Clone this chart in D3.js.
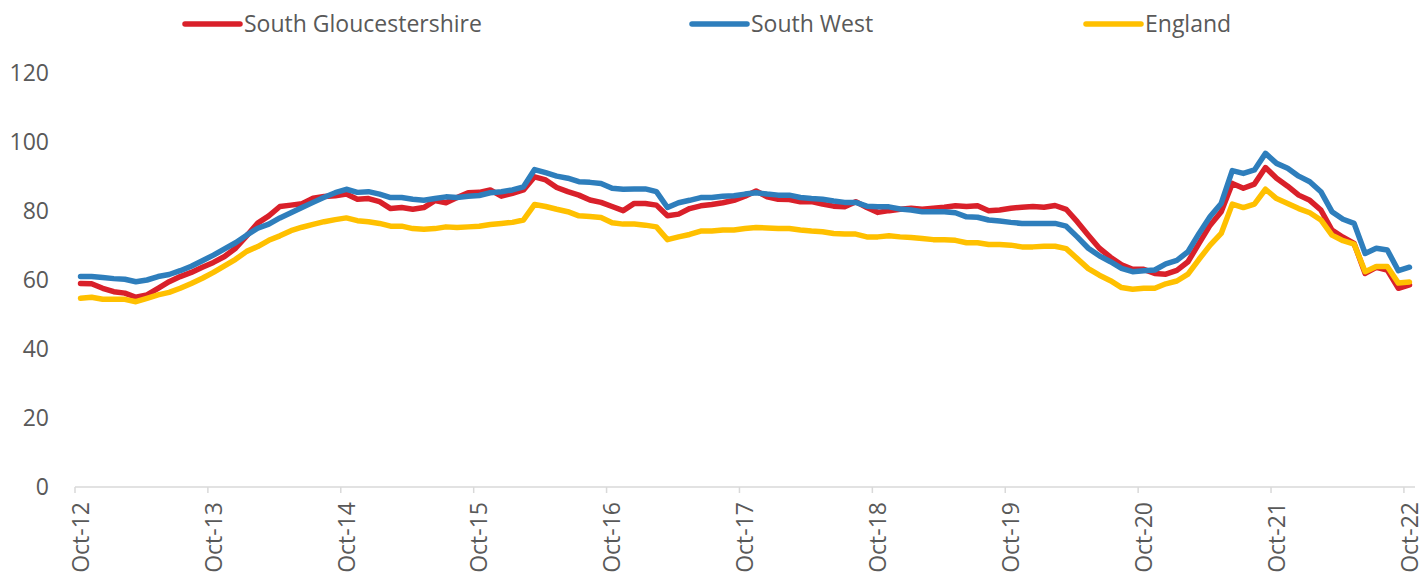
<!DOCTYPE html>
<html>
<head>
<meta charset="utf-8">
<script src="https://cdn.jsdelivr.net/npm/d3@7"></script>
<style>
  body { margin: 0; background: #fff; }
  svg { display: block; }
  text { font-family: "Open Sans", sans-serif; fill: #595959; }
</style>
</head>
<body>
<script>
// monthly series, Oct-12 .. Oct-22 (121 months)
const months = d3.timeMonth.range(new Date(2012, 9, 1), new Date(2022, 10, 1));
const tickLabels = ["Oct-12", "Oct-13", "Oct-14", "Oct-15", "Oct-16", "Oct-17", "Oct-18", "Oct-19", "Oct-20", "Oct-21", "Oct-22"];
const yTicks = [0, 20, 40, 60, 80, 100, 120];

const southGlos = [
  59.0, 58.9, 57.6, 56.6, 56.2, 55.0, 55.7, 57.6, 59.5, 61.0, 62.2, 63.7,
  65.1, 66.8, 69.2, 72.8, 76.5, 78.6, 81.3, 81.7, 82.1, 83.7, 84.2, 84.4,
  84.9, 83.4, 83.6, 82.7, 80.7, 81.0, 80.5, 81.0, 83.0, 82.4, 83.9, 85.3,
  85.4, 86.1, 84.3, 85.1, 86.1, 89.9, 89.0, 86.8, 85.6, 84.6, 83.2, 82.5,
  81.3, 80.1, 82.2, 82.2, 81.7, 78.6, 79.1, 80.7, 81.5, 81.9, 82.4, 83.1,
  84.3, 85.8, 84.1, 83.4, 83.3, 82.7, 82.7, 82.0, 81.4, 81.2, 82.7, 81.0,
  79.6, 80.1, 80.5, 80.8, 80.5, 80.8, 81.1, 81.5, 81.3, 81.5, 80.1, 80.3,
  80.8, 81.1, 81.3, 81.1, 81.6, 80.5, 76.9, 73.0, 69.2, 66.6, 64.4, 63.1,
  63.1, 61.9, 61.7, 62.8, 65.3, 70.6, 75.9, 79.8, 88.0, 86.6, 87.8, 92.6,
  89.5, 87.2, 84.6, 83.1, 80.3, 74.5, 72.4, 70.6, 61.9, 63.7, 62.9, 57.6,
  58.6
];

const southWest = [
  61.0, 61.0, 60.7, 60.4, 60.2, 59.5, 60.0, 61.0, 61.6, 62.7, 64.0, 65.6,
  67.2, 69.0, 70.8, 73.0, 75.0, 76.2, 78.0, 79.5, 81.0, 82.5, 84.0, 85.3,
  86.3, 85.4, 85.6, 84.9, 83.9, 83.9, 83.4, 83.1, 83.6, 84.1, 83.9, 84.3,
  84.5, 85.3, 85.6, 86.1, 87.0, 92.0, 91.1, 90.1, 89.5, 88.5, 88.3, 88.0,
  86.6, 86.3, 86.4, 86.4, 85.6, 81.0, 82.4, 83.1, 83.9, 83.9, 84.3, 84.4,
  84.9, 85.3, 84.9, 84.6, 84.6, 83.9, 83.6, 83.4, 82.9, 82.5, 82.5, 81.4,
  81.2, 81.2, 80.6, 80.3, 79.8, 79.8, 79.8, 79.5, 78.3, 78.2, 77.4, 77.1,
  76.7, 76.4, 76.4, 76.4, 76.4, 75.6, 72.5, 69.2, 67.0, 65.3, 63.4, 62.4,
  62.7, 62.9, 64.7, 65.7, 68.2, 73.5, 78.4, 82.2, 91.7, 90.9, 91.9, 96.7,
  93.8, 92.4, 90.1, 88.5, 85.6, 79.8, 77.6, 76.4, 67.7, 69.2, 68.7, 62.7,
  63.7
];

const england = [
  54.7, 55.0, 54.4, 54.4, 54.4, 53.7, 54.7, 55.7, 56.4, 57.6, 59.0, 60.5,
  62.2, 64.1, 66.0, 68.3, 69.7, 71.5, 72.8, 74.3, 75.3, 76.1, 76.9, 77.5,
  78.0, 77.2, 76.9, 76.4, 75.6, 75.6, 74.9, 74.7, 74.9, 75.4, 75.2, 75.4,
  75.6, 76.1, 76.4, 76.7, 77.4, 81.9, 81.3, 80.5, 79.8, 78.6, 78.4, 78.1,
  76.6, 76.2, 76.2, 75.9, 75.4, 71.7, 72.5, 73.2, 74.2, 74.2, 74.5, 74.5,
  74.9, 75.2, 75.1, 74.9, 74.9, 74.5, 74.2, 74.0, 73.5, 73.3, 73.3, 72.5,
  72.5, 72.8, 72.5, 72.3, 72.0, 71.7, 71.7, 71.5, 70.8, 70.8, 70.3, 70.3,
  70.1, 69.6, 69.6, 69.8, 69.8, 69.1, 66.2, 63.3, 61.4, 59.8, 57.8, 57.3,
  57.6, 57.6, 58.9, 59.7, 61.7, 66.0, 70.1, 73.5, 82.0, 81.0, 82.0, 86.3,
  83.6, 82.2, 80.7, 79.5, 77.4, 73.0, 71.4, 70.4, 62.4, 63.9, 63.9, 59.1,
  59.4
];

const seriesNames = ["South Gloucestershire", "South West", "England"];
const seriesColors = ["#d9202a", "#2e7ebc", "#ffc000"];
const seriesData = [southGlos, southWest, england];

const width = 1421, height = 574;
const plotLeft = 75, plotRight = 1415, plotTop = 73, plotBottom = 487;

const svg = d3.select('body').append('svg')
    .attr('width', width)
    .attr('height', height);

// category axis, points sit in the middle of each month slot
const x = d3.scaleLinear()
    .domain([0, months.length])
    .range([plotLeft, plotRight]);
const y = d3.scaleLinear()
    .domain([0, 120])
    .range([plotBottom, plotTop]);

// y labels
svg.append('g')
    .selectAll('text')
    .data(yTicks)
    .enter()
    .append('text')
    .attr('x', 49)
    .attr('y', d => y(d))
    .attr('dy', '0.36em')
    .attr('text-anchor', 'end')
    .style('font-size', '23px')
    .text(d => d);

// x axis line + ticks every 12 months
svg.append('line')
    .attr('x1', plotLeft).attr('x2', plotRight)
    .attr('y1', plotBottom).attr('y2', plotBottom)
    .attr('stroke', '#d9d9d9')
    .attr('stroke-width', 1.5);

const tickIdx = tickLabels.map((_, k) => k * 12);

svg.append('g')
    .selectAll('line')
    .data(tickIdx)
    .enter()
    .append('line')
    .attr('x1', d => x(d)).attr('x2', d => x(d))
    .attr('y1', plotBottom).attr('y2', plotBottom + 6)
    .attr('stroke', '#d9d9d9')
    .attr('stroke-width', 1.5);

svg.append('g')
    .selectAll('text')
    .data(tickIdx)
    .enter()
    .append('text')
    .attr('transform', d => `translate(${x(d + 0.5)},${plotBottom + 15}) rotate(-90)`)
    .attr('dy', '0.36em')
    .attr('text-anchor', 'end')
    .style('font-size', '23px')
    .text((d, k) => tickLabels[k]);

// lines
const line = d3.line()
    .x((d, i) => x(i + 0.5))
    .y(d => y(d));

svg.append('g')
    .selectAll('path')
    .data(seriesData)
    .enter()
    .append('path')
    .attr('d', d => line(d))
    .attr('fill', 'none')
    .attr('stroke', (d, i) => seriesColors[i])
    .attr('stroke-width', 5.5)
    .attr('stroke-linejoin', 'round')
    .attr('stroke-linecap', 'round');

// legend
const legendX = [185, 692, 1086];
const legend = svg.append('g')
    .selectAll('g')
    .data(seriesNames)
    .enter()
    .append('g')
    .attr('transform', (d, i) => `translate(${legendX[i]},24)`);

legend.append('line')
    .attr('x1', 0).attr('x2', 55)
    .attr('stroke', (d, i) => seriesColors[i])
    .attr('stroke-width', 5.5)
    .attr('stroke-linecap', 'round');

legend.append('text')
    .attr('x', 59)
    .attr('dy', '0.36em')
    .style('font-size', '23px')
    .text(d => d);
</script>
</body>
</html>
